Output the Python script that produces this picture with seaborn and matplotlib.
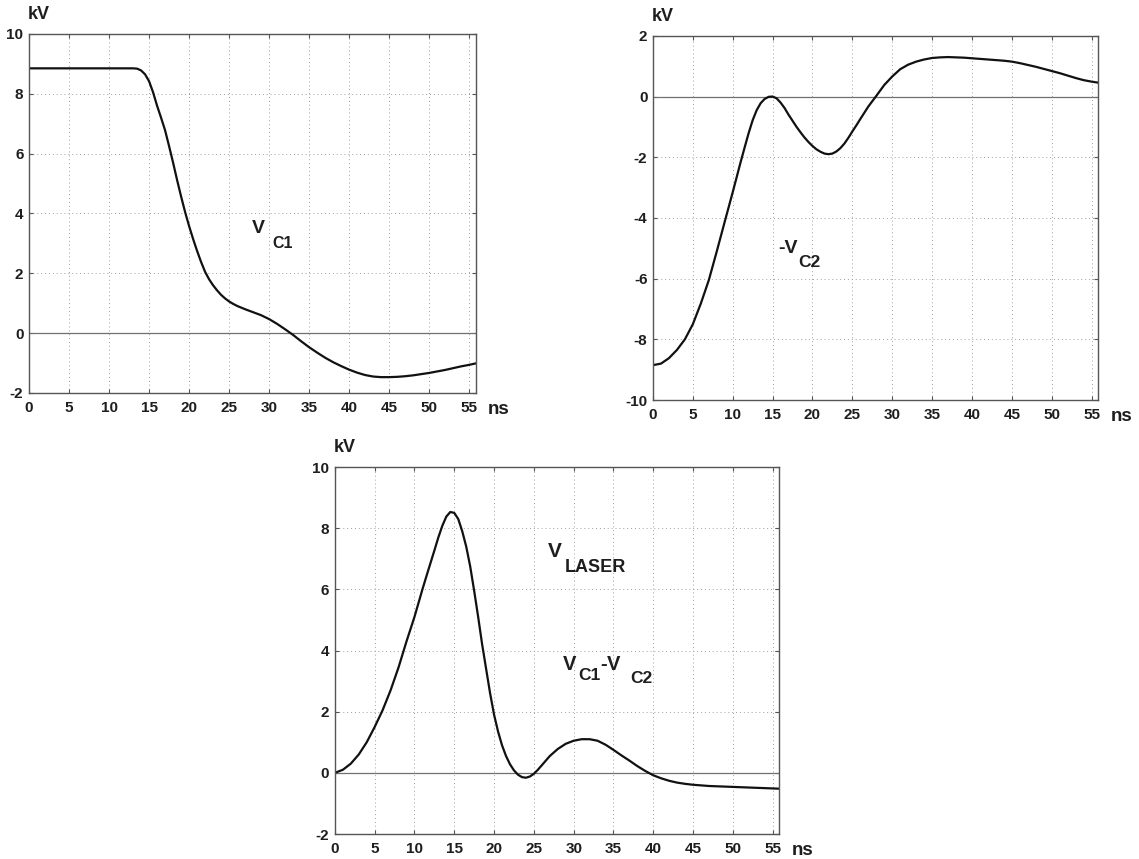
import numpy as np
import pandas as pd
import matplotlib
matplotlib.use("Agg")
import matplotlib.pyplot as plt
import seaborn as sns

# tempo em ns (passo de 0.5 ns na regiao de 10 a 26 ns)
t_ns = [0, 1, 2, 3, 4, 5, 6, 7, 8, 9,
        10, 10.5, 11, 11.5, 12, 12.5, 13, 13.5, 14, 14.5,
        15, 15.5, 16, 16.5, 17, 17.5, 18, 18.5, 19, 19.5,
        20, 20.5, 21, 21.5, 22, 22.5, 23, 23.5, 24, 24.5,
        25, 25.5, 26,
        27, 28, 29, 30, 31, 32, 33, 34, 35, 36,
        37, 38, 39, 40, 41, 42, 43, 44, 45, 46,
        47, 48, 49, 50, 51, 52, 53, 54, 55, 56]

v_c1 = [8.85, 8.85, 8.85, 8.85, 8.85, 8.85, 8.85, 8.85, 8.85, 8.85,
        8.85, 8.85, 8.85, 8.85, 8.85, 8.85, 8.85, 8.84, 8.78, 8.65,
        8.42, 8.05, 7.6, 7.2, 6.78, 6.25, 5.7, 5.12, 4.57, 4.05,
        3.58, 3.15, 2.75, 2.38, 2.05, 1.8, 1.6, 1.43, 1.28, 1.16,
        1.06, 0.98, 0.91,
        0.8, 0.7, 0.6, 0.47, 0.31, 0.13, -0.06, -0.27, -0.47, -0.65,
        -0.82, -0.97, -1.1, -1.22, -1.32, -1.4, -1.45, -1.47, -1.47, -1.46,
        -1.44, -1.41, -1.37, -1.33, -1.28, -1.23, -1.17, -1.11, -1.06, -1.0]

v_c2_neg = [-8.85, -8.8, -8.62, -8.35, -8.0, -7.5, -6.82, -6.05, -5.1, -4.12,
            -3.15, -2.65, -2.15, -1.67, -1.2, -0.78, -0.45, -0.22, -0.08, -0.01,
            0.0, -0.06, -0.2, -0.38, -0.6, -0.8, -1.0, -1.18, -1.35, -1.5,
            -1.63, -1.74, -1.82, -1.88, -1.9, -1.88, -1.81, -1.7, -1.55, -1.36,
            -1.15, -0.95, -0.74,
            -0.33, 0.02, 0.38, 0.66, 0.9, 1.05, 1.15, 1.22, 1.27, 1.29,
            1.3, 1.29, 1.28, 1.26, 1.24, 1.22, 1.2, 1.18, 1.15, 1.1,
            1.04, 0.98, 0.91, 0.84, 0.77, 0.69, 0.61, 0.54, 0.49, 0.45]

v_laser = [0.0, 0.1, 0.3, 0.6, 1.0, 1.5, 2.05, 2.7, 3.45, 4.3,
           5.1, 5.55, 6.0, 6.43, 6.85, 7.27, 7.7, 8.08, 8.38, 8.53,
           8.5, 8.3, 7.9, 7.4, 6.75, 5.95, 5.1, 4.2, 3.4, 2.6,
           1.9, 1.35, 0.9, 0.55, 0.28, 0.08, -0.06, -0.14, -0.16, -0.12,
           -0.03, 0.1, 0.25,
           0.55, 0.78, 0.95, 1.05, 1.1, 1.1, 1.05, 0.92, 0.75, 0.57,
           0.4, 0.22, 0.06, -0.08, -0.18, -0.26, -0.32, -0.36, -0.39, -0.41,
           -0.43, -0.44, -0.45, -0.46, -0.47, -0.48, -0.49, -0.5, -0.51, -0.52]

x_ticks = [0, 5, 10, 15, 20, 25, 30, 35, 40, 45, 50, 55]
y_ticks_top_left = [-2, 0, 2, 4, 6, 8, 10]
y_ticks_top_right = [-10, -8, -6, -4, -2, 0, 2]
y_ticks_bottom = [-2, 0, 2, 4, 6, 8, 10]

df = pd.DataFrame({"t": t_ns, "vc1": v_c1, "vc2": v_c2_neg, "vlaser": v_laser})

sns.set_style("white")
plt.rcParams["font.family"] = ["Liberation Sans", "DejaVu Sans"]

TXT = "#1e1e1e"

fig = plt.figure(figsize=(11.39, 8.59), dpi=100)


def setup_axes(ax, col, yticks):
    sns.lineplot(data=df, x="t", y=col, ax=ax, color="#111111", linewidth=1.6)
    ax.axhline(0, color="#6b7765", linewidth=0.9, zorder=1)
    ax.set_xlim(0, 55.8)
    ax.set_ylim(yticks[0], yticks[-1])
    ax.set_xticks(x_ticks)
    ax.set_yticks(yticks)
    ax.set_xticklabels([str(v) for v in x_ticks], fontsize=11, fontweight="bold")
    ax.set_yticklabels([str(v) for v in yticks], fontsize=11, fontweight="bold")
    ax.grid(True, linestyle=(0, (1, 3)), color="#a0a0a0", linewidth=0.7)
    ax.tick_params(axis="x", direction="in", length=3, pad=6, top=True, bottom=True,
                   colors="#555555", labelcolor=TXT)
    ax.tick_params(axis="y", direction="in", length=3, pad=4, left=True, right=True,
                   colors="#555555", labelcolor=TXT)
    for sp in ax.spines.values():
        sp.set_color("#555555")
        sp.set_linewidth(1.0)
    ax.set_xlabel("")
    ax.set_ylabel("")
    ax.text(-0.003, 1.03, "kV", transform=ax.transAxes, fontsize=13, fontweight="bold",
            color=TXT, ha="left", va="bottom")
    ax.text(1.028, -0.045, "ns", transform=ax.transAxes, fontsize=13.5, fontweight="bold",
            color=TXT, ha="left", va="center")


def label(ax, x, y, s, size):
    ax.text(x, y, s, transform=ax.transAxes, fontsize=size, fontweight="bold",
            color=TXT, ha="left", va="baseline")


# V_C1
ax1 = fig.add_axes([0.0255, 0.5425, 0.392, 0.418])
setup_axes(ax1, "vc1", y_ticks_top_left)
label(ax1, 0.50, 0.446, "V", 14)
label(ax1, 0.545, 0.404, "C1", 11.5)

# -V_C2
ax2 = fig.add_axes([0.5733, 0.5343, 0.3907, 0.424])
setup_axes(ax2, "vc2", y_ticks_top_right)
label(ax2, 0.281, 0.404, "-V", 14)
label(ax2, 0.326, 0.365, "C2", 12.5)

# V_LASER = V_C1 - V_C2
ax3 = fig.add_axes([0.294, 0.0291, 0.390, 0.4272])
setup_axes(ax3, "vlaser", y_ticks_bottom)
label(ax3, 0.48, 0.755, "V", 15)
label(ax3, 0.518, 0.714, "LASER", 13)
label(ax3, 0.514, 0.447, "V", 14.5)
label(ax3, 0.547, 0.42, "C1", 12.5)
label(ax3, 0.598, 0.447, "-", 14.5)
label(ax3, 0.613, 0.447, "V", 14.5)
label(ax3, 0.664, 0.411, "C2", 12.5)

fig.savefig("out.png", dpi=100)
